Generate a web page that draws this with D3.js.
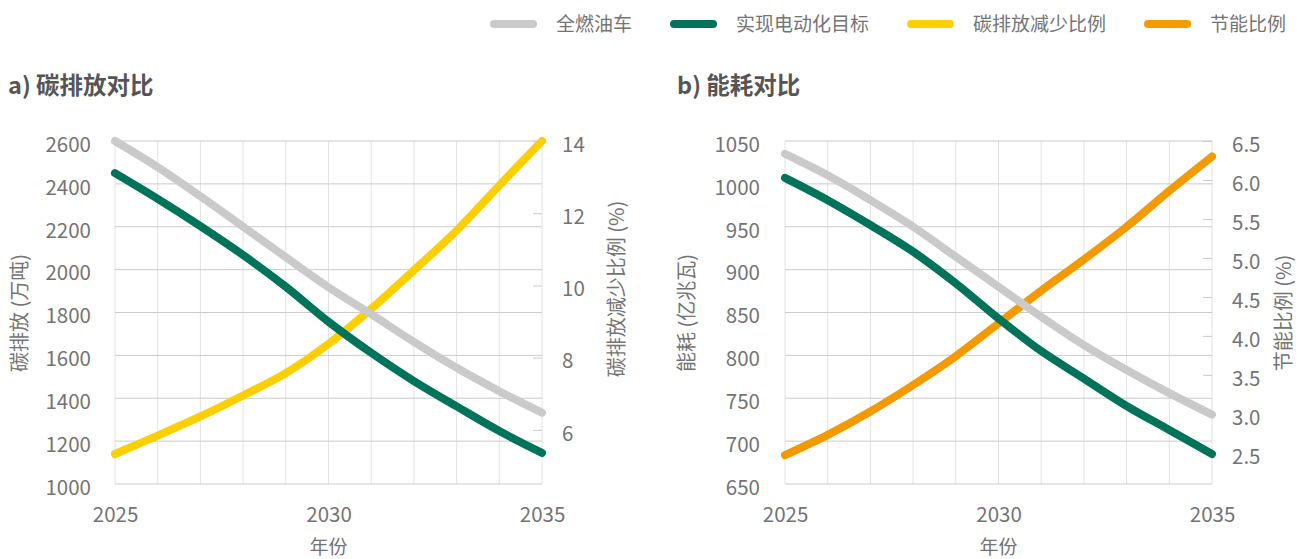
<!DOCTYPE html>
<html>
<head>
<meta charset="utf-8">
<script src="https://cdn.jsdelivr.net/npm/d3@7"></script>
<style>
  body { margin: 0; background: #fff; }
  svg { font-family: "Noto Sans CJK SC", "Noto Sans", sans-serif; }
</style>
</head>
<body>
<div id="chart"></div>
<script>
var width = 1306,
    height = 559;

// data
var years = [2025, 2026, 2027, 2028, 2029, 2030, 2031, 2032, 2033, 2034, 2035];
var yearLabels = [2025, 2030, 2035];

var carbonICE = [2600, 2478, 2342, 2200, 2058, 1918, 1792, 1663, 1542, 1433, 1333];
var carbonEV = [2450, 2330, 2203, 2068, 1920, 1757, 1612, 1480, 1362, 1247, 1145];
var carbonCut = [5.33, 5.84, 6.37, 6.95, 7.57, 8.38, 9.35, 10.42, 11.52, 12.77, 14.0];

var energyICE = [1035, 1010, 981, 950, 915, 880, 845, 812, 783, 756, 731];
var energyEV = [1007, 981, 952, 921, 884, 843, 805, 773, 741, 713, 685];
var energySave = [2.47, 2.73, 3.03, 3.37, 3.74, 4.16, 4.58, 4.98, 5.40, 5.86, 6.30];

var carbonTicks = [1000, 1200, 1400, 1600, 1800, 2000, 2200, 2400, 2600];
var carbonCutTicks = [6, 8, 10, 12, 14];
var energyTicks = [650, 700, 750, 800, 850, 900, 950, 1000, 1050];
var energySaveTicks = [2.5, 3.0, 3.5, 4.0, 4.5, 5.0, 5.5, 6.0, 6.5];

var legendNames = ["全燃油车", "实现电动化目标", "碳排放减少比例", "节能比例"];
var legendColors = ["#c9cac9", "#00735a", "#fcd000", "#f29a00"];

var textColor = "#747474";

var svg = d3.select("#chart").append("svg")
    .attr("width", width)
    .attr("height", height);

// legend
var lx = 490;
legendNames.forEach(function(name, i) {
    var g = svg.append("g").attr("transform", "translate(" + lx + ",24)");
    g.append("line")
        .attr("x1", 4).attr("x2", 43)
        .attr("stroke", legendColors[i])
        .attr("stroke-width", 8)
        .attr("stroke-linecap", "round");
    var t = g.append("text")
        .attr("x", 66)
        .attr("dy", "0.36em")
        .attr("fill", textColor)
        .style("font-size", "19px")
        .text(name);
    lx += 66 + t.node().getComputedTextLength() + 38;
});

function drawPanel(p) {
    var x = d3.scaleLinear().domain([2025, 2035]).range([p.left, p.right]);
    var yL = d3.scaleLinear().domain(p.leftDomain).range([484, 141]);
    var yR = d3.scaleLinear().domain(p.rightDomain).range([484, 141]);

    svg.append("text")
        .attr("x", p.titleX)
        .attr("y", 94)
        .attr("fill", "#555")
        .style("font-size", "23.5px")
        .style("font-weight", "bold")
        .text(p.title);

    // vertical grid, every year
    svg.append("g").selectAll("line")
        .data(years)
        .enter().append("line")
        .attr("x1", function(d) { return x(d); })
        .attr("x2", function(d) { return x(d); })
        .attr("y1", 141).attr("y2", 484)
        .attr("stroke", "#e2e2e2")
        .attr("stroke-width", 1);

    // horizontal grid from left axis
    svg.append("g").selectAll("line")
        .data(p.leftTicks)
        .enter().append("line")
        .attr("x1", p.left).attr("x2", p.right)
        .attr("y1", function(d) { return yL(d); })
        .attr("y2", function(d) { return yL(d); })
        .attr("stroke", "#cbcbcb")
        .attr("stroke-width", 1);

    var axL = svg.append("g")
        .attr("transform", "translate(" + p.left + ",0)")
        .call(d3.axisLeft(yL).tickValues(p.leftTicks).tickSize(0).tickPadding(p.leftPad)
            .tickFormat(d3.format("d")));
    var axR = svg.append("g")
        .attr("transform", "translate(" + p.right + ",0)")
        .call(d3.axisRight(yR).tickValues(p.rightTicks).tickSize(-9).tickPadding(20)
            .tickFormat(p.rightFormat));
    var axB = svg.append("g")
        .attr("transform", "translate(0,484)")
        .call(d3.axisBottom(x).tickValues(yearLabels).tickSize(0).tickPadding(23)
            .tickFormat(d3.format("d")));

    [axL, axR, axB].forEach(function(a) {
        a.select(".domain").remove();
        a.selectAll(".tick line").attr("stroke", "#cbcbcb");
        a.selectAll("text")
            .attr("fill", textColor)
            .style("font-size", "20.5px")
            .style("font-family", "'Noto Sans CJK SC', sans-serif");
    });
    axL.selectAll("text").attr("dy", "0.5em");
    axR.selectAll("text").attr("dy", "0.5em");

    // axis titles
    svg.append("text")
        .attr("transform", "translate(" + p.leftTitleX + "," + 313 + ")rotate(-90)")
        .attr("text-anchor", "middle")
        .attr("dy", "0.35em")
        .attr("fill", textColor)
        .style("font-size", "20px")
        .text(p.leftTitle);
    svg.append("text")
        .attr("transform", "translate(" + p.rightTitleX + "," + p.rightTitleY + ")rotate(-90)")
        .attr("text-anchor", "middle")
        .attr("dy", "0.35em")
        .attr("fill", textColor)
        .style("font-size", "20px")
        .text(p.rightTitle);
    svg.append("text")
        .attr("x", (p.left + p.right) / 2)
        .attr("y", 554)
        .attr("text-anchor", "middle")
        .attr("fill", textColor)
        .style("font-size", "19px")
        .text("年份");

    var lineL = d3.line()
        .x(function(d, i) { return x(years[i]); })
        .y(function(d) { return yL(d); })
        .curve(d3.curveCatmullRom);
    var lineR = d3.line()
        .x(function(d, i) { return x(years[i]); })
        .y(function(d) { return yR(d); })
        .curve(d3.curveCatmullRom);

    svg.append("path")
        .datum(p.rightSeries)
        .attr("d", lineR)
        .attr("fill", "none")
        .attr("stroke", p.rightColor)
        .attr("stroke-width", 8)
        .attr("stroke-linecap", "round");
    svg.append("path")
        .datum(p.ice)
        .attr("d", lineL)
        .attr("fill", "none")
        .attr("stroke", legendColors[0])
        .attr("stroke-width", 8)
        .attr("stroke-linecap", "round");
    svg.append("path")
        .datum(p.ev)
        .attr("d", lineL)
        .attr("fill", "none")
        .attr("stroke", legendColors[1])
        .attr("stroke-width", 8)
        .attr("stroke-linecap", "round");
}

drawPanel({
    title: "a) 碳排放对比",
    titleX: 8,
    left: 115, right: 542,
    leftDomain: [1000, 2600], rightDomain: [4.5, 14],
    leftTicks: carbonTicks, rightTicks: carbonCutTicks,
    rightFormat: d3.format("d"),
    leftPad: 24,
    leftTitle: "碳排放 (万吨)", leftTitleX: 20,
    rightTitle: "碳排放减少比例 (%)", rightTitleX: 617, rightTitleY: 289,
    ice: carbonICE, ev: carbonEV,
    rightSeries: carbonCut, rightColor: legendColors[2]
});

drawPanel({
    title: "b) 能耗对比",
    titleX: 677,
    left: 785, right: 1212,
    leftDomain: [650, 1050], rightDomain: [2.1, 6.5],
    leftTicks: energyTicks, rightTicks: energySaveTicks,
    rightFormat: d3.format(".1f"),
    leftPad: 25,
    leftTitle: "能耗 (亿兆瓦)", leftTitleX: 687,
    rightTitle: "节能比例 (%)", rightTitleX: 1284, rightTitleY: 313,
    ice: energyICE, ev: energyEV,
    rightSeries: energySave, rightColor: legendColors[3]
});
</script>
</body>
</html>
